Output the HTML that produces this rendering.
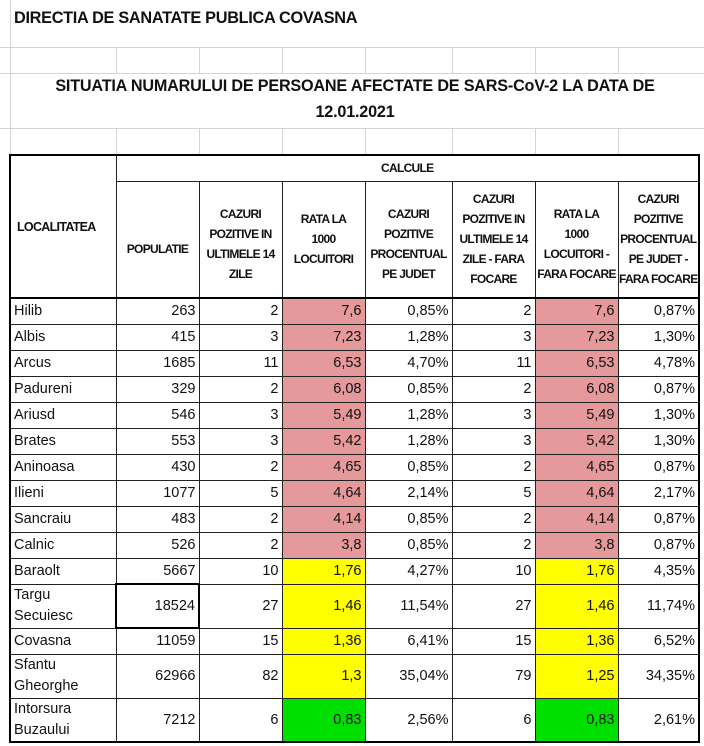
<!DOCTYPE html>
<html><head><meta charset="utf-8"><style>
body{margin:0;width:704px;height:746px;background:#fff;position:relative;overflow:hidden;font-family:"Liberation Sans",sans-serif;color:#111}
.g{position:absolute;background:#d4d4d4}
.t1{position:absolute;left:14px;top:9px;font-size:16.3px;font-weight:bold;letter-spacing:-0.3px}
.t2{position:absolute;left:10px;width:690px;text-align:center;font-size:16.2px;font-weight:bold;letter-spacing:-0.2px}
table{position:absolute;left:9px;top:154px;border-collapse:collapse;border:2.5px solid #000;table-layout:fixed}
td{border:1px solid #222;padding:0 3px;font-size:14.5px;white-space:nowrap;overflow:hidden}
td.n{text-align:right}
td.l{text-align:left;line-height:21px}
.h td{font-size:12px;font-weight:bold;text-align:center;line-height:20px;white-space:nowrap;padding:0;letter-spacing:-0.7px}
tr.hb td{border-bottom:2.5px solid #000}
.p{background:#e6999a}.y{background:#ffff00}.gr{background:#00e000}
</style></head><body>
<div class="g" style="left:10px;top:0;width:1px;height:155px"></div>
<div class="g" style="left:0;top:47px;width:704px;height:1px"></div>
<div class="g" style="left:0;top:73px;width:704px;height:1px"></div>
<div class="g" style="left:0;top:128px;width:704px;height:1px"></div>
<div class="g" style="left:116px;top:47px;width:1px;height:26px"></div>
<div class="g" style="left:199px;top:47px;width:1px;height:26px"></div>
<div class="g" style="left:282px;top:47px;width:1px;height:26px"></div>
<div class="g" style="left:365px;top:47px;width:1px;height:26px"></div>
<div class="g" style="left:452px;top:47px;width:1px;height:26px"></div>
<div class="g" style="left:535px;top:47px;width:1px;height:26px"></div>
<div class="g" style="left:618px;top:47px;width:1px;height:26px"></div>
<div class="g" style="left:116px;top:128px;width:1px;height:27px"></div>
<div class="g" style="left:199px;top:128px;width:1px;height:27px"></div>
<div class="g" style="left:282px;top:128px;width:1px;height:27px"></div>
<div class="g" style="left:365px;top:128px;width:1px;height:27px"></div>
<div class="g" style="left:452px;top:128px;width:1px;height:27px"></div>
<div class="g" style="left:535px;top:128px;width:1px;height:27px"></div>
<div class="g" style="left:618px;top:128px;width:1px;height:27px"></div>
<div class="t1">DIRECTIA DE SANATATE PUBLICA COVASNA</div>
<div class="t2" style="top:77px">SITUATIA NUMARULUI DE PERSOANE AFECTATE DE SARS-CoV-2 LA DATA DE</div>
<div class="t2" style="top:103px">12.01.2021</div>
<table>
<colgroup><col style="width:106px"><col style="width:83px"><col style="width:83px"><col style="width:83px"><col style="width:87px"><col style="width:83px"><col style="width:83px"><col style="width:81px"></colgroup>
<tr class="h" style="height:26px"><td rowspan="2" style="border-bottom:2.5px solid #000;text-align:left;padding-left:6px;font-size:12.5px">LOCALITATEA</td><td colspan="7">CALCULE</td></tr>
<tr class="h hb" style="height:117px"><td style="padding-top:20px">POPULATIE</td><td style="padding-top:10px">CAZURI<br>POZITIVE IN<br>ULTIMELE 14<br>ZILE</td><td>RATA LA<br>1000<br>LOCUITORI</td><td style="padding-top:10px">CAZURI<br>POZITIVE<br>PROCENTUAL<br>PE JUDET</td><td>CAZURI<br>POZITIVE IN<br>ULTIMELE 14<br>ZILE - FARA<br>FOCARE</td><td style="padding-top:10px">RATA LA<br>1000<br>LOCUITORI -<br>FARA FOCARE</td><td>CAZURI<br>POZITIVE<br>PROCENTUAL<br>PE JUDET -<br>FARA FOCARE</td></tr>
<tr style="height:26px"><td class="l">Hilib</td><td class="n">263</td><td class="n">2</td><td class="n p">7,6</td><td class="n">0,85%</td><td class="n">2</td><td class="n p">7,6</td><td class="n">0,87%</td></tr>
<tr style="height:26px"><td class="l">Albis</td><td class="n">415</td><td class="n">3</td><td class="n p">7,23</td><td class="n">1,28%</td><td class="n">3</td><td class="n p">7,23</td><td class="n">1,30%</td></tr>
<tr style="height:26px"><td class="l">Arcus</td><td class="n">1685</td><td class="n">11</td><td class="n p">6,53</td><td class="n">4,70%</td><td class="n">11</td><td class="n p">6,53</td><td class="n">4,78%</td></tr>
<tr style="height:26px"><td class="l">Padureni</td><td class="n">329</td><td class="n">2</td><td class="n p">6,08</td><td class="n">0,85%</td><td class="n">2</td><td class="n p">6,08</td><td class="n">0,87%</td></tr>
<tr style="height:26px"><td class="l">Ariusd</td><td class="n">546</td><td class="n">3</td><td class="n p">5,49</td><td class="n">1,28%</td><td class="n">3</td><td class="n p">5,49</td><td class="n">1,30%</td></tr>
<tr style="height:26px"><td class="l">Brates</td><td class="n">553</td><td class="n">3</td><td class="n p">5,42</td><td class="n">1,28%</td><td class="n">3</td><td class="n p">5,42</td><td class="n">1,30%</td></tr>
<tr style="height:26px"><td class="l">Aninoasa</td><td class="n">430</td><td class="n">2</td><td class="n p">4,65</td><td class="n">0,85%</td><td class="n">2</td><td class="n p">4,65</td><td class="n">0,87%</td></tr>
<tr style="height:26px"><td class="l">Ilieni</td><td class="n">1077</td><td class="n">5</td><td class="n p">4,64</td><td class="n">2,14%</td><td class="n">5</td><td class="n p">4,64</td><td class="n">2,17%</td></tr>
<tr style="height:26px"><td class="l">Sancraiu</td><td class="n">483</td><td class="n">2</td><td class="n p">4,14</td><td class="n">0,85%</td><td class="n">2</td><td class="n p">4,14</td><td class="n">0,87%</td></tr>
<tr style="height:26px"><td class="l">Calnic</td><td class="n">526</td><td class="n">2</td><td class="n p">3,8</td><td class="n">0,85%</td><td class="n">2</td><td class="n p">3,8</td><td class="n">0,87%</td></tr>
<tr style="height:26px"><td class="l">Baraolt</td><td class="n">5667</td><td class="n">10</td><td class="n y">1,76</td><td class="n">4,27%</td><td class="n">10</td><td class="n y">1,76</td><td class="n">4,35%</td></tr>
<tr style="height:44px"><td class="l">Targu<br>Secuiesc</td><td class="n" style="border:2px solid #000">18524</td><td class="n">27</td><td class="n y">1,46</td><td class="n">11,54%</td><td class="n">27</td><td class="n y">1,46</td><td class="n">11,74%</td></tr>
<tr style="height:26px"><td class="l">Covasna</td><td class="n">11059</td><td class="n">15</td><td class="n y">1,36</td><td class="n">6,41%</td><td class="n">15</td><td class="n y">1,36</td><td class="n">6,52%</td></tr>
<tr style="height:44px"><td class="l">Sfantu<br>Gheorghe</td><td class="n">62966</td><td class="n">82</td><td class="n y">1,3</td><td class="n">35,04%</td><td class="n">79</td><td class="n y">1,25</td><td class="n">34,35%</td></tr>
<tr style="height:44px"><td class="l">Intorsura<br>Buzaului</td><td class="n">7212</td><td class="n">6</td><td class="n gr">0,83</td><td class="n">2,56%</td><td class="n">6</td><td class="n gr">0,83</td><td class="n">2,61%</td></tr>
</table>
</body></html>
